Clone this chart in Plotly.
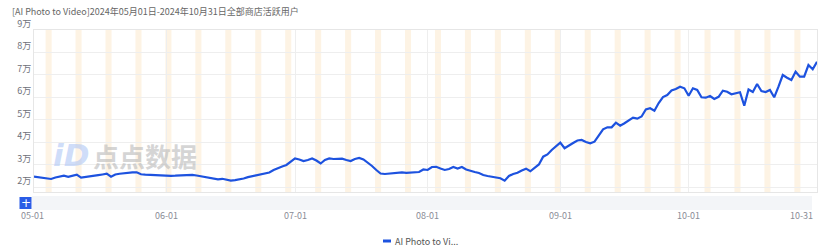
import plotly.graph_objects as go
import pandas as pd

# ---------------- data ----------------
title_text = "[AI Photo to Video]2024年05月01日-2024年10月31日全部商店活跃用户"
series_name = "AI Photo to Video"
legend_label = "AI Photo to Vi..."
start_date = "2024-05-01"
end_date = "2024-10-31"

active_users = [
    24720, 24450, 24230, 23920, 23690, 24360, 24810, 25160, 24670, 25030,
    25610, 24270, 24630, 24810, 25120, 25380, 25700, 26050, 24720, 25700,
    26010, 26270, 26500, 26590, 26680, 25790, 25650, 25560, 25470, 25300,
    25030, 25070, 25120, 25160, 25250, 25380, 25470, 25560, 25250, 24900,
    24670, 24360, 23780, 23560, 23780, 23340, 22940, 23160, 23470, 23920,
    24490, 24900, 25340, 25790, 26230, 26590, 27700, 28590, 29260, 29920,
    31260, 32820, 32370, 31700, 32150, 32820, 31930, 30590, 32150, 32820,
    32590, 32590, 32730, 32150, 31700, 32590, 33040, 32370, 31040, 29480,
    27700, 26140, 25920, 26140, 26360, 26590, 26590, 26450, 26630, 26900,
    26810, 27920, 27700, 29030, 29120, 28370, 27700, 28140, 29030, 28370,
    29030, 27920, 27250, 26810, 26360, 25470, 25030, 24580,
    24360, 24000, 22940, 25030, 25920, 26450, 27480, 28280, 27120, 28590, 30150, 33620,
    34600, 36600, 38380, 39850, 37360, 38380, 39710, 40830, 41050, 40160,
    39580, 40290, 42830, 45810, 46700, 46700, 48750, 47410, 48480, 49730,
    50970, 50530, 51510, 54620, 55160, 54090, 57510, 60180, 61070, 63080,
    63740, 64770, 64060, 60760, 64060, 63300, 60050, 59870, 60630, 59290,
    60270, 62990, 62540, 61390, 61960, 62280, 56310, 63520, 62410, 65970,
    62850, 62410, 63300, 60050, 64770, 69970, 68770, 67750, 71440, 69220,
    69220, 74420, 72510, 75890,
]

y_tick_values = [20000, 30000, 40000, 50000, 60000, 70000, 80000, 90000]
y_tick_labels = ["2万", "3万", "4万", "5万", "6万", "7万", "8万", "9万"]
x_tick_dates = ["2024-05-01", "2024-06-01", "2024-07-01", "2024-08-01",
                "2024-09-01", "2024-10-01", "2024-10-31"]
x_tick_labels = ["05-01", "06-01", "07-01", "08-01", "09-01", "10-01", "10-31"]

watermark_logo = "iD"
watermark_text = "点点数据"

# ---------------- layout geometry (pixels) ----------------
W, H = 831, 250
ML, MR, MT, MB = 34, 14, 30, 58
PW = W - ML - MR
PH = H - MT - MB
Y_MIN, Y_MAX = 17900, 90000

LINE_COLOR = "#1d52df"
FONT = "Noto Sans CJK SC, Noto Sans, sans-serif"


def px(xp):
    return (xp - ML) / PW


def py(yp):
    return (H - MB - yp) / PH


dates = pd.date_range(start_date, end_date, freq="D")

fig = go.Figure()
fig.add_trace(go.Scatter(
    x=dates, y=active_users, mode="lines", name=series_name,
    line=dict(color=LINE_COLOR, width=2.2), showlegend=False,
    hoverinfo="x+y",
))

shapes = []
# weekend bands
for d in dates:
    if d.weekday() == 5:
        shapes.append(dict(
            type="rect", xref="x", yref="paper",
            x0=d - pd.Timedelta(hours=7), x1=d + pd.Timedelta(hours=27),
            y0=0, y1=1, fillcolor="#fdf3e4", line=dict(width=0), layer="below",
        ))

# slider bar (decorative)
shapes.append(dict(type="rect", xref="paper", yref="paper",
                   x0=px(32), x1=px(812), y0=py(210), y1=py(196),
                   fillcolor="#f3f5f8", line=dict(width=0)))
# plus button
shapes.append(dict(type="rect", xref="paper", yref="paper",
                   x0=px(19.5), x1=px(31.5), y0=py(209), y1=py(197),
                   fillcolor="#2a5ce6", line=dict(width=0)))
# legend symbol
shapes.append(dict(type="line", xref="paper", yref="paper",
                   x0=px(383), x1=px(391), y0=py(241), y1=py(241),
                   line=dict(color=LINE_COLOR, width=3)))

annotations = []
# x tick labels
for dt, lab in zip(x_tick_dates, x_tick_labels):
    if lab == x_tick_labels[-1]:
        anchor, shift = "right", -2
    elif lab == x_tick_labels[0]:
        anchor, shift = "center", -2
    else:
        anchor, shift = "center", 0
    annotations.append(dict(
        x=dt, xref="x", y=py(215), yref="paper", text=lab, showarrow=False,
        xanchor=anchor, yanchor="middle", xshift=shift,
        font=dict(size=9, color="#8a8d96", family=FONT),
    ))

annotations.append(dict(
    x=px(25.5), y=py(203), xref="paper", yref="paper", text="+",
    showarrow=False, font=dict(size=12, color="white", family="DejaVu Sans"),
    xanchor="center", yanchor="middle",
))

annotations.append(dict(
    x=px(393), y=py(241), xref="paper", yref="paper", text=legend_label,
    showarrow=False, xanchor="left", yanchor="middle",
    font=dict(size=9, color="#555555", family=FONT),
))

# watermark
annotations.append(dict(
    x=px(71), y=py(155), xref="paper", yref="paper", text="<b><i>" + watermark_logo + "</i></b>",
    showarrow=False, xanchor="center", yanchor="middle",
    font=dict(size=31, color="rgba(175,198,245,0.6)", family="DejaVu Sans"),
))
annotations.append(dict(
    x=px(145), y=py(155), xref="paper", yref="paper", text="<b>" + watermark_text + "</b>",
    showarrow=False, xanchor="center", yanchor="middle",
    font=dict(size=26, color="rgba(185,185,185,0.6)", family=FONT),
))

fig.update_layout(
    width=W, height=H,
    margin=dict(l=ML, r=MR, t=MT, b=MB),
    paper_bgcolor="white", plot_bgcolor="white",
    title=dict(text=title_text, x=12 / W, xanchor="left", xref="container",
               y=1 - 12 / H, yanchor="middle", yref="container",
               font=dict(size=9, color="#666666", family=FONT)),
    shapes=shapes, annotations=annotations,
    showlegend=False,
    font=dict(family=FONT),
)

fig.update_xaxes(
    type="date", range=[start_date, end_date],
    tickvals=x_tick_dates, showticklabels=False,
    showgrid=True, gridcolor="#eeeeee", gridwidth=1,
    showline=True, linecolor="#e6e6e6", mirror=True,
    zeroline=False, fixedrange=True,
)
fig.update_yaxes(
    range=[Y_MIN, Y_MAX], tickvals=y_tick_values, ticktext=y_tick_labels,
    ticklabelposition="outside top",
    showgrid=True, gridcolor="#eeeeee", gridwidth=1,
    showline=True, linecolor="#e6e6e6", mirror=True,
    zeroline=False, fixedrange=True,
    tickfont=dict(size=9, color="#6e7079", family=FONT),
)

fig.write_html("out.html")
